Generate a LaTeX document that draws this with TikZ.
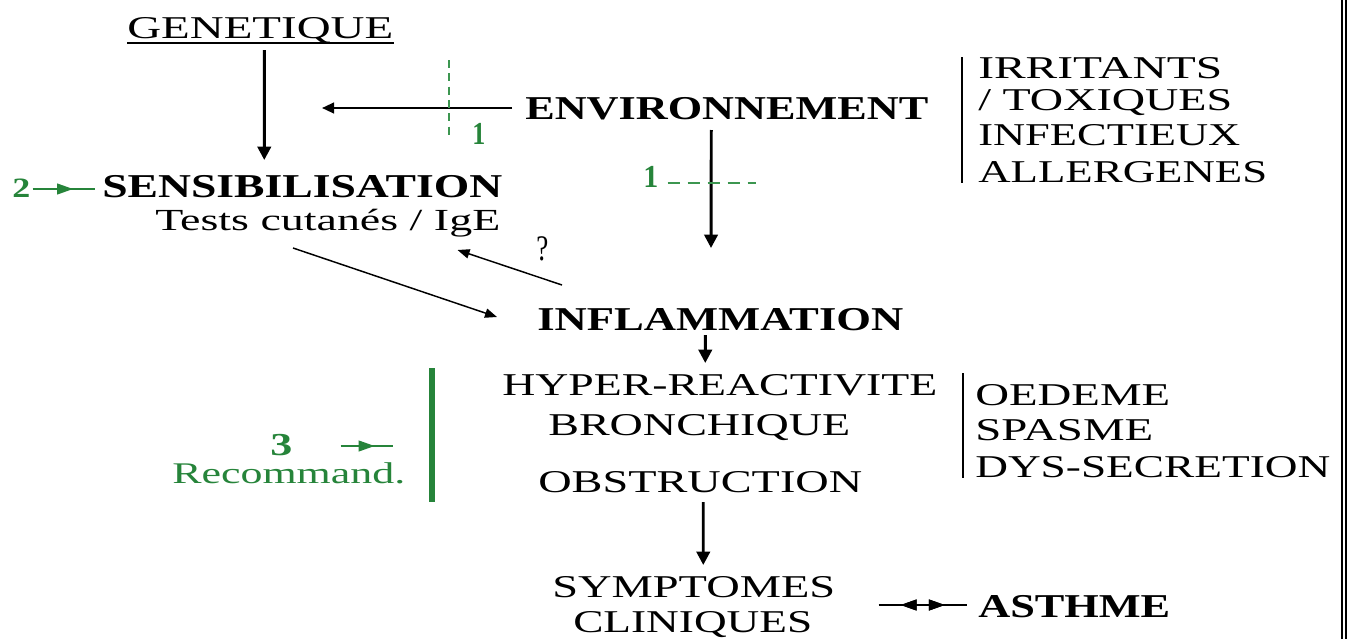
\documentclass[tikz,border=0pt]{standalone}
\usepackage{fontspec}
\setmainfont{Liberation Serif}
\usepackage{graphicx}
\usetikzlibrary{arrows.meta,decorations.markings,calc}
\newdimen\pxu \pxu=0.75pt
\newcommand\fitw[2]{\resizebox{#1\pxu}{\height}{#2}}
\definecolor{dgreen}{RGB}{38,132,58}
\definecolor{lgreen}{RGB}{60,150,80}
\begin{document}
\begin{tikzpicture}[x=0.75pt,y=-0.75pt,
  txt/.style={inner sep=0pt,anchor=base west,font=\fontsize{23.8}{26}\selectfont},
  btxt/.style={txt,font=\fontsize{25}{28}\selectfont\bfseries},
  gtxt/.style={txt,text=dgreen,font=\fontsize{24}{26}\selectfont\bfseries},
  arr/.style={line width=2.2pt,-{Triangle[length=10pt,width=10pt]}},
  harr/.style={line width=1.6pt,-{Triangle[length=9pt,width=8pt]}},
  darr/.style={line width=1.1pt,-{Triangle[length=9pt,width=7pt]}},
  gdash/.style={lgreen,line width=1.6pt,dash pattern=on 6pt off 4pt},
  midarr/.style={decoration={markings,mark=at position #1 with {\arrow{Triangle[length=12pt,width=8pt]}}},postaction={decorate}},
  midrev/.style={decoration={markings,mark=at position #1 with {\arrowreversed{Triangle[length=12pt,width=8pt]}}},postaction={decorate}},
  vbar/.style={line width=1.5pt}
]
\fill[white] (0,0) rectangle (1349,639);
\useasboundingbox (0,0) rectangle (1349,639);

% texts
\node[txt] (gen) at (127,38) {\fitw{266}{GENETIQUE}};
\node[btxt] (env) at (525,119) {\fitw{403}{ENVIRONNEMENT}};
\node[txt] (irr) at (978,78) {\fitw{244}{IRRITANTS}};
\node[txt] (tox) at (978,110) {\fitw{254}{/ TOXIQUES}};
\node[txt] (inf) at (978,145) {\fitw{262}{INFECTIEUX}};
\node[txt] (all) at (978,182) {\fitw{289}{ALLERGENES}};
\node[btxt] (sens) at (102,197) {\fitw{400}{SENSIBILISATION}};
\node[txt,font=\fontsize{23}{26}\selectfont] (tests) at (155,230) {\fitw{345}{Tests cutanés / IgE}};
\node[btxt] (infl) at (537,330) {\fitw{366}{INFLAMMATION}};
\node[txt] (hyper) at (502,395) {\fitw{435}{HYPER-REACTIVITE}};
\node[txt] (bron) at (548,435) {\fitw{302}{BRONCHIQUE}};
\node[txt] (obs) at (538,492) {\fitw{324}{OBSTRUCTION}};
\node[txt] (sym) at (552,597) {\fitw{283}{SYMPTOMES}};
\node[txt] (cli) at (573,632) {\fitw{239}{CLINIQUES}};
\node[btxt] (ast) at (978,617) {\fitw{192}{ASTHME}};
\node[txt] (oed) at (975,405) {\fitw{195}{OEDEME}};
\node[txt] (spa) at (975,440) {\fitw{178}{SPASME}};
\node[txt] (dys) at (975,477) {\fitw{355}{DYS-SECRETION}};
\node[txt,text=dgreen,font=\fontsize{22.5}{26}\selectfont] (rec) at (172,483) {\fitw{233}{Recommand.}};
\node[gtxt] (n3) at (270,455) {\fitw{22}{3}};
\node[gtxt,font=\fontsize{21}{24}\selectfont\bfseries] (n2) at (12,197) {\fitw{18}{2}};
\node[gtxt] (n1a) at (472,144) {\fitw{13}{1}};
\node[gtxt] (n1b) at (643,187) {\fitw{15}{1}};
\node[txt,font=\fontsize{27}{30}\selectfont] (q) at (536,260) {\fitw{12}{?}};

% underline
\draw[line width=1.4pt] ($(gen.base west)+(0,5)$) -- ($(gen.base east)+(0,5)$);

% free ends
\coordinate (envl) at (322,108);
\coordinate (envd) at (711,248);

% connectors
\draw[arr] ($(gen.base)+(4,12)$) -- ($(sens.base)+(-38,-37)$);
\draw[harr] ($(env.base west)+(-13,-11)$) -- (envl);
\draw[arr] ($(env.base)+(-15.5,11)$) -- (envd);
\draw[darr] ($(tests.base west)+(138,18)$) -- ($(infl.base west)+(-40,-13)$);
\draw[darr] ($(infl.base west)+(25,-45)$) -- ($(tests.base east)+(-43,20)$);
\draw[arr] ($(infl.base)+(-15,5)$) -- ($(hyper.base)+(-14.5,-32)$);
\draw[arr] ($(obs.base)+(3,10)$) -- ($(sym.base)+(9.5,-32)$);

% green markers
\draw[gdash] ($(n1a.base west)+(-23,-84)$) -- ($(n1a.base west)+(-23,-6)$);
\draw[gdash,dash pattern=on 9pt off 6pt] ($(n1b.base east)+(9,-4)$) -- ($(n1b.base east)+(97,-4)$);
\draw[dgreen,line width=4.5pt] (432,368) -- (432,502);
\coordinate (bar3) at (393,446);
\draw[dgreen,line width=1.5pt,midarr=0.65] ($(n3.base east)+(48,-9)$) -- (bar3);
\draw[dgreen,line width=1.5pt,midarr=0.65] ($(n2.base east)+(2,-8)$) -- ($(sens.base west)+(-7,-8)$);

% asthme link
\draw[line width=1.5pt,midrev=0.25,midarr=0.75] ($(sym.base east)+(43,8)$) -- ($(ast.base west)+(-11,-12)$);

% brackets
\draw[vbar] ($(irr.base west)+(-16,-21)$) -- ($(all.base west)+(-16,1)$);
\draw[vbar] ($(oed.base west)+(-12,-32)$) -- ($(dys.base west)+(-12,1)$);

% right double border
\draw[line width=1.5pt] (1341.5,0) -- (1341.5,639);
\draw[line width=1.5pt] (1345.5,0) -- (1345.5,639);
\end{tikzpicture}
\end{document}
